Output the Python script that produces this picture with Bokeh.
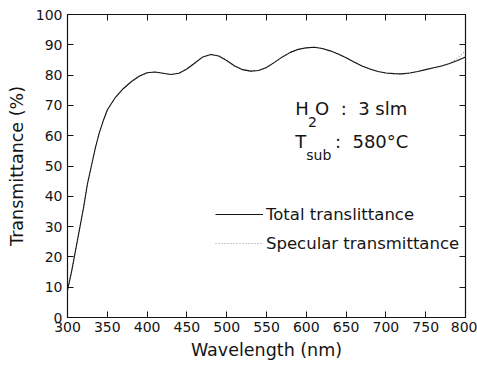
from bokeh.plotting import figure
from bokeh.models import Range1d, LinearAxis, Legend, LegendItem, Label, FixedTicker
from bokeh.embed import file_html
from bokeh.resources import INLINE

wavelength = [300, 305, 310, 315, 320, 325, 330, 335, 340, 345, 350, 360, 370, 380, 390,
              400, 410, 420, 430, 440, 450, 460, 470, 480, 490, 500, 510, 520, 530, 540,
              550, 560, 570, 580, 590, 600, 610, 620, 630, 640, 650, 660, 670, 680, 690,
              700, 710, 720, 730, 740, 750, 760, 770, 780, 790, 800]
total = [9, 15, 22, 29, 36, 44, 50, 56, 61, 65, 68.5, 72.6, 75.5, 77.8, 79.6,
         80.8, 81, 80.6, 80.2, 80.6, 82, 84, 86, 86.8, 86.3, 84.8, 83, 81.8, 81.3, 81.5,
         82.5, 84.2, 86, 87.5, 88.5, 89, 89.2, 88.8, 88, 87, 85.7, 84.3, 83, 82, 81.2,
         80.7, 80.5, 80.4, 80.7, 81.2, 81.8, 82.4, 83, 83.8, 84.8, 86]
specular = [9, 15, 22, 29, 36, 44, 50, 56, 61, 65, 68.5, 72.6, 75.5, 77.8, 79.6,
            80.8, 81, 80.6, 80.2, 80.6, 82, 84, 86, 86.8, 86.3, 84.8, 83, 81.8, 81.3, 81.5,
            82.5, 84.2, 86, 87.5, 88.5, 89, 89.2, 88.8, 88, 87, 85.7, 84.3, 83, 82, 81.2,
            80.7, 80.5, 80.4, 80.7, 81.2, 81.8, 82.4, 83, 83.8, 85.5, 88]
x_ticks = [300, 350, 400, 450, 500, 550, 600, 650, 700, 750, 800]
y_ticks = [0, 10, 20, 30, 40, 50, 60, 70, 80, 90, 100]

FONT = "DejaVu Sans"
INK = "#151515"
NB = "\u00a0"

p = figure(width=477, height=367, output_backend="svg", toolbar_location=None,
           x_range=Range1d(300, 800), y_range=Range1d(0, 100),
           min_border_left=67, min_border_right=12, min_border_top=14, min_border_bottom=50)
p.grid.visible = False
p.outline_line_color = INK
p.outline_line_width = 1.2
p.background_fill_color = "white"
p.border_fill_color = "white"

for ax in (p.xaxis[0], p.yaxis[0]):
    ax.axis_line_color = INK
    ax.major_tick_in = 6
    ax.major_tick_out = 0
    ax.minor_tick_line_color = None
    ax.major_tick_line_color = INK
    ax.major_label_text_font = FONT
    ax.major_label_text_font_size = "14px"
    ax.major_label_text_color = INK
    ax.axis_label_text_font = FONT
    ax.axis_label_text_font_size = "17.5px"
    ax.axis_label_text_font_style = "normal"
    ax.axis_label_text_color = INK

p.xaxis[0].ticker = FixedTicker(ticks=x_ticks)
p.yaxis[0].ticker = FixedTicker(ticks=y_ticks)
p.xaxis[0].axis_label = "Wavelength (nm)"
p.yaxis[0].axis_label = "Transmittance (%)"
p.xaxis[0].major_label_standoff = 4
p.yaxis[0].major_label_standoff = 5
p.xaxis[0].axis_label_standoff = 5
p.yaxis[0].axis_label_standoff = 6

blank_x = {t: "" for t in x_ticks}
blank_y = {t: "" for t in y_ticks}
top = LinearAxis(ticker=FixedTicker(ticks=x_ticks), major_label_overrides=blank_x,
                 major_tick_in=6, major_tick_out=0, minor_tick_line_color=None,
                 axis_line_color=INK, major_tick_line_color=INK, major_label_standoff=0)
right = LinearAxis(ticker=FixedTicker(ticks=y_ticks), major_label_overrides=blank_y,
                   major_tick_in=6, major_tick_out=0, minor_tick_line_color=None,
                   axis_line_color=INK, major_tick_line_color=INK, major_label_standoff=0)
p.add_layout(top, "above")
p.add_layout(right, "right")

r_spec = p.line(wavelength, specular, line_color="#9a9a9a", line_width=1.2, line_dash="1 2")
r_tot = p.line(wavelength, total, line_color=INK, line_width=1.1)

legend = Legend(items=[LegendItem(label="Total translittance", renderers=[r_tot]),
                       LegendItem(label="Specular transmittance", renderers=[r_spec])],
                location=(148, 64), orientation="vertical",
                background_fill_alpha=0, border_line_color=None,
                padding=0, margin=0, spacing=9, glyph_width=48, glyph_height=20,
                label_standoff=3, label_height=20,
                label_text_font=FONT, label_text_font_size="16.5px", label_text_color=INK)
p.add_layout(legend, "center")

ann = dict(text_font=FONT, text_color=INK, text_baseline="middle", text_align="left")
p.add_layout(Label(x=586, y=69, text="H", text_font_size="18px", **ann))
p.add_layout(Label(x=602, y=64.5, text="2", text_font_size="14px", **ann))
p.add_layout(Label(x=611, y=69, text="O" + NB + NB + ":" + NB + NB + "3" + NB + "slm",
                   text_font_size="18px", **ann))
p.add_layout(Label(x=586, y=58, text="T", text_font_size="18px", **ann))
p.add_layout(Label(x=600, y=53.5, text="sub", text_font_size="14px", **ann))
p.add_layout(Label(x=636, y=58, text=":" + NB + NB + "580°C", text_font_size="18px", **ann))

open("out.html", "w").write(file_html(p, INLINE))
